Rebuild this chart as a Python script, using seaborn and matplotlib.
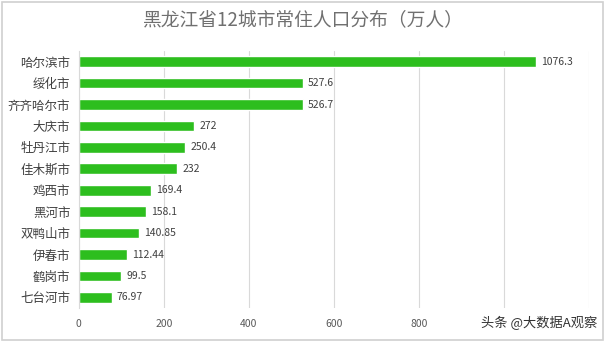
import matplotlib
matplotlib.use("Agg")
import matplotlib.pyplot as plt
import seaborn as sns
import pandas as pd
from matplotlib.patches import Rectangle

cities = ["哈尔滨市", "绥化市", "齐齐哈尔市", "大庆市", "牡丹江市", "佳木斯市",
          "鸡西市", "黑河市", "双鸭山市", "伊春市", "鹤岗市", "七台河市"]
values = [1076.3, 527.6, 526.7, 272, 250.4, 232, 169.4, 158.1, 140.85, 112.44, 99.5, 76.97]
labels = ["1076.3", "527.6", "526.7", "272", "250.4", "232", "169.4", "158.1",
          "140.85", "112.44", "99.5", "76.97"]
xticks = [0, 200, 400, 600, 800, 1000, 1200]
xticklabels = ["0", "200", "400", "600", "800", "", ""]

sns.set_theme(style="white")
plt.rcParams['font.family'] = ['Noto Sans CJK SC', 'DejaVu Sans']

df = pd.DataFrame({"city": cities, "value": values})

fig = plt.figure(figsize=(6.06, 3.42), dpi=100)
ax = fig.add_axes([0.130, 0.099, 0.842, 0.752])
sns.barplot(data=df, x="value", y="city", orient="h", color="#2DBE1E",
            saturation=1, width=0.5, ax=ax)

ax.set_xlim(0, 1200)
ax.set_xticks(xticks)
ax.set_xticklabels(xticklabels, fontsize=7.5, color="#595959")
ax.tick_params(axis='y', labelsize=9, colors="#404040", length=0, pad=6)
ax.tick_params(axis='x', length=0, pad=8)
ax.set_xlabel("")
ax.set_ylabel("")
ax.grid(axis='x', color="#D9D9D9", linewidth=0.8)
ax.set_axisbelow(True)
for s in ["top", "right", "bottom"]:
    ax.spines[s].set_visible(False)
ax.spines["left"].set_color("#D9D9D9")
ax.spines["left"].set_linewidth(0.8)

for i, (v, lab) in enumerate(zip(values, labels)):
    ax.text(v + 12, i, lab, va="center", ha="left", fontsize=7.5, color="#404040")

fig.text(0.5, 0.942, "黑龙江省12城市常住人口分布（万人）", ha="center", va="center",
         fontsize=13.5, color="#707070")

fig.text(0.985, 0.057, "头条 @大数据A观察", ha="right", va="center", fontsize=9.5,
         color="#333333")

fig.patches.append(Rectangle((0.003, 0.005), 0.992, 0.99, transform=fig.transFigure,
                             fill=False, edgecolor="#D0D0D0", linewidth=1.2))

fig.savefig("out.png", dpi=100)
